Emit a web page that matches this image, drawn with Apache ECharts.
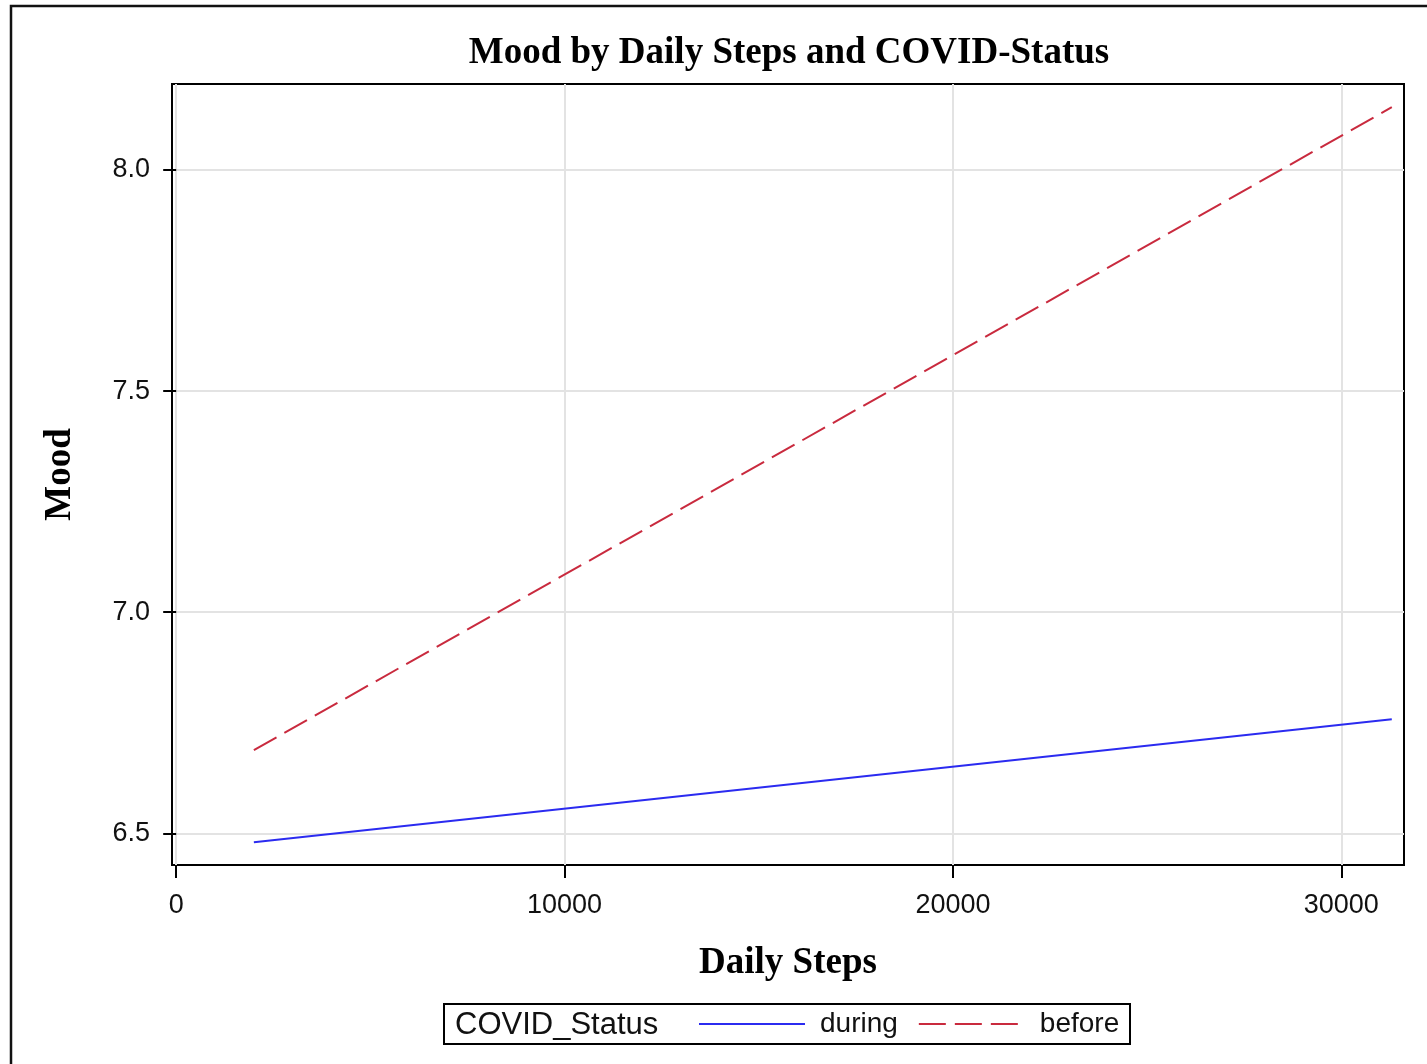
<!DOCTYPE html>
<html>
<head>
<meta charset="utf-8">
<title>Mood by Daily Steps and COVID-Status</title>
<script src="https://cdn.jsdelivr.net/npm/echarts@6/dist/echarts.min.js"></script>
<style>
  html, body { margin: 0; padding: 0; background: #fff; }
  #chart { width: 1427px; height: 1064px; }
</style>
</head>
<body>
<div id="chart"></div>
<script>
// Fitted mood lines across the observed range of daily steps
const steps = [2000, 31300];
const moodDuring = [6.48, 6.758];
const moodBefore = [6.688, 8.142];
const statusNames = ['during', 'before'];
const xTicks = [0, 10000, 20000, 30000];
const yTicks = [6.5, 7.0, 7.5, 8.0];

const serif = '"Liberation Serif", "DejaVu Serif", serif';
const sans = '"Liberation Sans", Arial, sans-serif';
const BLUE = '#2b2bf0';
const RED = '#c92a3e';
const DASH = [26, 9];

const chart = echarts.init(document.getElementById('chart'));

const axisCommon = {
  axisLine: { show: false },
  axisTick: { show: true, length: 13, lineStyle: { color: '#000', width: 2 } },
  axisLabel: { color: '#111', fontSize: 27, fontFamily: sans },
  splitLine: { show: true, lineStyle: { color: '#e3e3e3', width: 2 } }
};

chart.setOption({
  animation: false,
  backgroundColor: '#fff',
  title: {
    text: 'Mood by Daily Steps and COVID-Status',
    left: 784, top: 30, textAlign: 'center',
    textStyle: { fontFamily: serif, fontWeight: 'bold', fontSize: 37, color: '#000' }
  },
  grid: {
    left: 172, top: 84, right: 23, bottom: 199,
    show: true, borderColor: '#000', borderWidth: 2,
    outerBoundsMode: 'none'
  },
  xAxis: {
    type: 'value',
    min: -108, max: 31614,
    name: 'Daily Steps', nameLocation: 'middle', nameGap: 80,
    nameTextStyle: { fontFamily: serif, fontWeight: 'bold', fontSize: 37, color: '#000' },
    axisLine: axisCommon.axisLine,
    axisTick: Object.assign({ customValues: xTicks }, axisCommon.axisTick),
    axisLabel: Object.assign({ customValues: xTicks, margin: 27,
      formatter: v => String(v) }, axisCommon.axisLabel),
    splitLine: Object.assign({ customValues: xTicks }, axisCommon.splitLine)
  },
  yAxis: {
    type: 'value',
    min: 6.4283, max: 8.1945,
    name: 'Mood', nameLocation: 'middle', nameGap: 93, nameRotate: 90,
    nameTextStyle: { fontFamily: serif, fontWeight: 'bold', fontSize: 37, color: '#000' },
    axisLine: axisCommon.axisLine,
    axisTick: Object.assign({ customValues: yTicks }, axisCommon.axisTick),
    axisLabel: Object.assign({ customValues: yTicks, margin: 22,
      formatter: v => v.toFixed(1) }, axisCommon.axisLabel),
    splitLine: Object.assign({ customValues: yTicks }, axisCommon.splitLine)
  },
  legend: {
    left: 693, top: 1005,
    itemWidth: 106, itemHeight: 18, itemGap: 20,
    data: [
      { name: statusNames[0] },
      { name: statusNames[1], lineStyle: { type: [27, 9] } }
    ],
    itemStyle: { opacity: 0 },
    textStyle: { fontFamily: sans, fontSize: 28, color: '#111', padding: [0, 0, 0, 10] }
  },
  graphic: [
    // page frame
    { type: 'rect', shape: { x: 11, y: 6, width: 1440, height: 1090 },
      style: { fill: 'none', stroke: '#111', lineWidth: 2.5 } },
    // legend box and caption
    { type: 'rect', shape: { x: 444, y: 1004, width: 686, height: 40 },
      style: { fill: 'none', stroke: '#000', lineWidth: 2 } },
    { type: 'text', left: 455, top: 1010,
      style: { text: 'COVID_Status', fontFamily: sans, fontSize: 31, fill: '#111' } }
  ],
  series: [
    {
      name: statusNames[0], type: 'line', symbol: 'none',
      data: steps.map((s, i) => [s, moodDuring[i]]),
      lineStyle: { color: BLUE, width: 2 }, itemStyle: { color: BLUE }
    },
    {
      name: statusNames[1], type: 'line', symbol: 'none',
      data: steps.map((s, i) => [s, moodBefore[i]]),
      lineStyle: { color: RED, width: 2, type: DASH }, itemStyle: { color: RED }
    }
  ]
});
</script>
</body>
</html>
